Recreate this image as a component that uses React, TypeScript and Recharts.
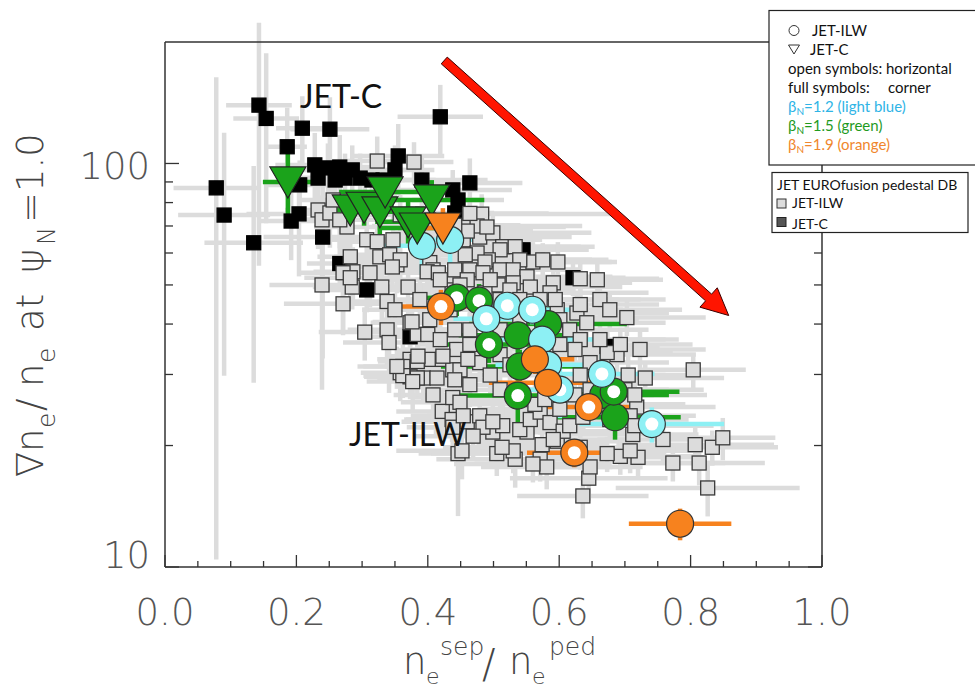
import React from "react";
import { ScatterChart, Scatter, XAxis, YAxis, ErrorBar, ReferenceLine } from "recharts";

// points are [ne_sep/ne_ped, grad ne/ne, x error, relative y error]

// JET EUROfusion pedestal DB, JET-ILW (grey squares)
const ilwDb = [
  [0.323, 101.4, 0.05, 0.15], [0.379, 100.8, 0.06, 0.12], [0.233, 76.7, 0.05, 0.2], [0.239, 72.5, 0.04, 0.15],
  [0.251, 75.4, 0.06, 0.18], [0.277, 69.6, 0.05, 0.2], [0.307, 64.7, 0.07, 0.15], [0.323, 64.0, 0.05, 0.12],
  [0.347, 64.7, 0.06, 0.2], [0.454, 64.7, 0.12, 0.15], [0.479, 65.7, 0.14, 0.12], [0.482, 74.9, 0.2, 0.12],
  [0.475, 70.0, 0.16, 0.1], [0.499, 67.3, 0.15, 0.12], [0.46, 68.0, 0.1, 0.15], [0.49, 69.6, 0.12, 0.1],
  [0.514, 62.2, 0.14, 0.12], [0.533, 62.2, 0.1, 0.1], [0.51, 61.1, 0.12, 0.15], [0.492, 57.7, 0.1, 0.12],
  [0.475, 60.0, 0.08, 0.1], [0.282, 58.7, 0.05, 0.2], [0.286, 53.9, 0.06, 0.15], [0.312, 53.6, 0.05, 0.18],
  [0.327, 58.7, 0.07, 0.12], [0.353, 56.1, 0.06, 0.15], [0.342, 59.4, 0.05, 0.12], [0.358, 57.7, 0.08, 0.15],
  [0.271, 53.6, 0.07, 0.3], [0.346, 55.4, 0.06, 0.12], [0.403, 56.8, 0.08, 0.15], [0.457, 59.4, 0.1, 0.12],
  [0.487, 57.0, 0.12, 0.1], [0.56, 57.0, 0.12, 0.12], [0.575, 57.7, 0.1, 0.1], [0.598, 57.0, 0.09, 0.12],
  [0.54, 57.7, 0.11, 0.1], [0.658, 51.5, 0.1, 0.12], [0.632, 51.8, 0.12, 0.1], [0.464, 54.5, 0.1, 0.12],
  [0.484, 53.6, 0.08, 0.1], [0.51, 54.5, 0.12, 0.12], [0.53, 54.5, 0.1, 0.1], [0.551, 52.4, 0.13, 0.12],
  [0.408, 54.5, 0.06, 0.15], [0.441, 54.5, 0.08, 0.12], [0.399, 53.9, 0.07, 0.1], [0.416, 53.6, 0.06, 0.12],
  [0.507, 50.0, 0.1, 0.1], [0.53, 50.6, 0.12, 0.12], [0.556, 49.4, 0.14, 0.1], [0.591, 50.6, 0.12, 0.12],
  [0.586, 47.8, 0.15, 0.1], [0.437, 48.6, 0.08, 0.12], [0.487, 47.8, 0.1, 0.1], [0.495, 51.5, 0.09, 0.12],
  [0.46, 51.5, 0.08, 0.1], [0.37, 49.4, 0.06, 0.15], [0.33, 49.4, 0.07, 0.2], [0.239, 50.0, 0.08, 0.45],
  [0.285, 49.4, 0.06, 0.12], [0.271, 44.9, 0.09, 0.15], [0.338, 45.5, 0.07, 0.12], [0.35, 43.4, 0.05, 0.1],
  [0.373, 40.3, 0.06, 0.12], [0.304, 38.2, 0.07, 0.15], [0.338, 38.7, 0.06, 0.2], [0.341, 36.0, 0.07, 0.25],
  [0.384, 37.7, 0.05, 0.12], [0.4, 37.7, 0.06, 0.1], [0.703, 41.5, 0.12, 0.1], [0.627, 42.6, 0.14, 0.12],
  [0.642, 40.3, 0.12, 0.1], [0.597, 43.4, 0.1, 0.12], [0.373, 32.7, 0.05, 0.12], [0.384, 32.3, 0.06, 0.15],
  [0.406, 32.7, 0.07, 0.1], [0.422, 32.7, 0.05, 0.12], [0.358, 30.3, 0.06, 0.15], [0.393, 29.4, 0.07, 0.12],
  [0.414, 29.4, 0.06, 0.1], [0.438, 30.8, 0.08, 0.12], [0.408, 26.7, 0.06, 0.15], [0.422, 24.3, 0.07, 0.12],
  [0.438, 26.3, 0.06, 0.1], [0.444, 23.2, 0.08, 0.15], [0.446, 19.1, 0.06, 0.3], [0.373, 29.6, 0.07, 0.12],
  [0.362, 31.4, 0.06, 0.15], [0.384, 29.4, 0.05, 0.1], [0.449, 25.6, 0.09, 0.12], [0.437, 23.2, 0.07, 0.12],
  [0.46, 22.9, 0.1, 0.1], [0.479, 23.7, 0.08, 0.12], [0.499, 21.6, 0.09, 0.1], [0.514, 22.4, 0.1, 0.12],
  [0.551, 21.6, 0.12, 0.1], [0.574, 20.1, 0.1, 0.12], [0.597, 20.5, 0.12, 0.1], [0.505, 19.1, 0.1, 0.12],
  [0.533, 18.5, 0.12, 0.15], [0.571, 18.5, 0.1, 0.12], [0.693, 18.8, 0.12, 0.1], [0.72, 18.7, 0.1, 0.12],
  [0.773, 18.1, 0.08, 0.1], [0.807, 20.1, 0.12, 0.12], [0.804, 30.8, 0.08, 0.1], [0.632, 19.8, 0.12, 0.12],
  [0.712, 21.3, 0.1, 0.1], [0.647, 32.1, 0.12, 0.12], [0.444, 34.6, 0.08, 0.1], [0.449, 30.8, 0.07, 0.12],
  [0.479, 32.1, 0.1, 0.1], [0.461, 32.7, 0.08, 0.12], [0.758, 20.7, 0.1, 0.12], [0.833, 19.8, 0.1, 0.1],
  [0.849, 20.9, 0.08, 0.12], [0.813, 18.1, 0.1, 0.12], [0.826, 15.7, 0.14, 0.15], [0.636, 15.0, 0.1, 0.12],
  [0.645, 16.6, 0.12, 0.12], [0.647, 17.7, 0.08, 0.1], [0.708, 19.4, 0.1, 0.12], [0.673, 19.1, 0.09, 0.1],
  [0.581, 17.7, 0.1, 0.12], [0.56, 18.0, 0.12, 0.1], [0.53, 19.4, 0.1, 0.12], [0.513, 19.8, 0.09, 0.1],
  [0.484, 22.2, 0.1, 0.12], [0.499, 22.9, 0.08, 0.1], [0.469, 21.1, 0.09, 0.12], [0.452, 19.4, 0.1, 0.15],
  [0.438, 22.2, 0.07, 0.12], [0.454, 23.7, 0.08, 0.1], [0.54, 21.9, 0.1, 0.12], [0.556, 23.2, 0.12, 0.1],
  [0.571, 24.2, 0.1, 0.12], [0.586, 22.8, 0.11, 0.1], [0.606, 21.7, 0.12, 0.12], [0.616, 22.4, 0.1, 0.1],
  [0.591, 20.7, 0.12, 0.12], [0.636, 23.5, 0.1, 0.1], [0.718, 24.9, 0.12, 0.12], [0.708, 23.7, 0.1, 0.1],
  [0.715, 22.4, 0.12, 0.12], [0.731, 29.4, 0.12, 0.1], [0.705, 29.9, 0.1, 0.12], [0.688, 33.6, 0.12, 0.1],
  [0.673, 34.0, 0.1, 0.12], [0.376, 40.5, 0.06, 0.12], [0.385, 33.3, 0.05, 0.1], [0.362, 29.8, 0.06, 0.12],
  [0.377, 28.8, 0.07, 0.15], [0.423, 33.3, 0.08, 0.12], [0.353, 31.4, 0.06, 0.12], [0.419, 51.5, 0.08, 0.1],
  [0.449, 50.0, 0.1, 0.12], [0.464, 46.0, 0.09, 0.1], [0.434, 43.4, 0.08, 0.12], [0.403, 41.0, 0.07, 0.1],
  [0.388, 46.0, 0.06, 0.12], [0.51, 46.0, 0.12, 0.1], [0.525, 48.6, 0.1, 0.12], [0.54, 46.0, 0.11, 0.1],
  [0.571, 46.0, 0.12, 0.12], [0.594, 46.0, 0.13, 0.1], [0.601, 41.0, 0.12, 0.12], [0.616, 38.7, 0.12, 0.1],
  [0.632, 36.6, 0.13, 0.12], [0.624, 34.6, 0.12, 0.1], [0.601, 35.6, 0.1, 0.12], [0.54, 41.0, 0.1, 0.1],
  [0.51, 38.7, 0.09, 0.12], [0.464, 38.7, 0.08, 0.1], [0.441, 38.7, 0.07, 0.12], [0.419, 36.6, 0.06, 0.1],
  [0.464, 35.6, 0.08, 0.12], [0.51, 33.6, 0.1, 0.1], [0.525, 31.7, 0.11, 0.12], [0.495, 29.9, 0.09, 0.1],
  [0.464, 28.3, 0.08, 0.12], [0.441, 29.1, 0.07, 0.1], [0.51, 27.5, 0.1, 0.12], [0.54, 26.0, 0.11, 0.1],
  [0.563, 25.3, 0.12, 0.12], [0.578, 26.0, 0.11, 0.1], [0.601, 24.6, 0.12, 0.12], [0.624, 26.7, 0.12, 0.1],
  [0.632, 29.9, 0.13, 0.12], [0.647, 27.5, 0.12, 0.1], [0.662, 25.3, 0.13, 0.12], [0.677, 23.2, 0.12, 0.1],
  [0.7, 27.5, 0.12, 0.12], [0.715, 26.7, 0.11, 0.1], [0.662, 36.6, 0.12, 0.12], [0.693, 35.6, 0.11, 0.1],
  [0.723, 34.6, 0.1, 0.12], [0.632, 44.7, 0.12, 0.1], [0.662, 46.0, 0.1, 0.12], [0.677, 43.4, 0.11, 0.1],
  [0.266, 72.5, 0.06, 0.15], [0.282, 52.1, 0.07, 0.12], [0.256, 81.2, 0.05, 0.15], [0.304, 81.2, 0.06, 0.12],
  [0.358, 74.6, 0.07, 0.12], [0.441, 70.3, 0.1, 0.12], [0.464, 75.2, 0.12, 0.1],
];

// JET EUROfusion pedestal DB, JET-C (black squares)
const jetcDb = [
  [0.143, 139.5, 0.05, 0.6], [0.154, 129.3, 0.05, 0.45], [0.209, 122.3, 0.04, 0.2], [0.251, 121.6, 0.06, 0.2],
  [0.186, 110.0, 0.03, 0.25], [0.078, 87.0, 0.065, 0.88], [0.09, 74.5, 0.07, 0.6], [0.135, 63.6, 0.075, 0.55],
  [0.204, 75.0, 0.08, 0.3], [0.192, 72.0, 0.05, 0.2], [0.24, 65.7, 0.09, 0.5], [0.266, 56.5, 0.05, 0.15],
  [0.307, 48.6, 0.06, 0.12], [0.419, 130.5, 0.065, 0.2], [0.228, 99.2, 0.06, 0.2], [0.248, 97.5, 0.07, 0.15],
  [0.266, 98.0, 0.05, 0.2], [0.285, 96.4, 0.08, 0.15], [0.233, 92.0, 0.06, 0.12], [0.274, 92.0, 0.07, 0.15],
  [0.259, 91.0, 0.05, 0.12], [0.297, 92.0, 0.06, 0.15], [0.355, 104.4, 0.07, 0.2], [0.35, 96.4, 0.06, 0.15],
  [0.332, 91.0, 0.08, 0.12], [0.315, 91.0, 0.05, 0.15], [0.391, 91.0, 0.1, 0.15], [0.438, 86.0, 0.09, 0.12],
  [0.464, 89.5, 0.08, 0.15], [0.446, 81.2, 0.07, 0.12], [0.441, 75.4, 0.06, 0.1], [0.545, 61.1, 0.1, 0.12],
  [0.621, 52.1, 0.08, 0.1], [0.373, 37.2, 0.06, 0.12], [0.673, 35.2, 0.08, 0.1], [0.205, 88.5, 0.05, 0.15],
];

// scan points: open = horizontal, full = corner
const lightBlueOpen = [[0.521, 44.4, 0.06, 0.08], [0.559, 43.4, 0.07, 0.08], [0.489, 41.2, 0.05, 0.1], [0.601, 27.5, 0.07, 0.15], [0.665, 30.1, 0.08, 0.12], [0.741, 22.6, 0.11, 0.1]];
const lightBlueFull = [[0.391, 62.5, 0.06, 0.15], [0.434, 64.7, 0.05, 0.15], [0.574, 36.6, 0.08, 0.1], [0.583, 31.7, 0.08, 0.1]];
const greenOpen = [[0.444, 46.5, 0.05, 0.1], [0.478, 45.7, 0.05, 0.1], [0.493, 35.6, 0.07, 0.1], [0.537, 26.6, 0.1, 0.15], [0.683, 27.2, 0.1, 0.08]];
const greenFull = [[0.537, 37.5, 0.09, 0.1], [0.583, 40.0, 0.12, 0.1], [0.54, 31.4, 0.12, 0.1], [0.667, 26.7, 0.1, 0.1], [0.685, 23.5, 0.1, 0.12]];
const orangeOpen = [[0.42, 44.2, 0.06, 0.1], [0.645, 24.9, 0.07, 0.08], [0.623, 19.2, 0.072, 0.08]];
const orangeFull = [[0.563, 32.7, 0.06, 0.08], [0.583, 28.6, 0.09, 0.08], [0.784, 12.8, 0.078, 0.09]];
const greenTri = [[0.187, 90.0, 0.038, 0.22], [0.282, 76.7, 0.05, 0.12], [0.303, 77.9, 0.045, 0.1], [0.327, 75.9, 0.06, 0.15], [0.335, 85.0, 0.07, 0.1], [0.37, 71.7, 0.05, 0.12], [0.384, 69.2, 0.06, 0.13], [0.406, 81.2, 0.08, 0.12]];
const orangeTri = [[0.423, 69.2, 0.06, 0.12]];

const arrowFrom = { x: 0.425, y: 180 };
const arrowTo = { x: 0.858, y: 42 };

const xTicks = [0, 0.05, 0.1, 0.15, 0.2, 0.25, 0.3, 0.35, 0.4, 0.45, 0.5, 0.55, 0.6, 0.65, 0.7, 0.75, 0.8, 0.85, 0.9, 0.95, 1.0];
const xLabels = [0, 0.2, 0.4, 0.6, 0.8, 1.0];
const yTicks = [10, 20, 30, 40, 50, 60, 70, 80, 90, 100];
const yLabels = [10, 100];

const BLUE = "#8df0f4";
const GREEN = "#1ba31b";
const ORANGE = "#f7821e";
const EDGE = "#333";
const TICK_FONT = "'DejaVu Sans', sans-serif";
const TEXT_FONT = "Lato, 'Open Sans', sans-serif";

const rows = (pts: number[][]) => pts.map(([x, y, ex, ey]) => ({ x, y, ex, ey: y * ey }));

const isLabel = (list: number[], v: number) => list.some((m) => Math.abs(m - v) < 1e-6);

const BottomTick = (p: any) => {
  const v = p.payload.value;
  const major = isLabel(xLabels, v);
  return (
    <g>
      <line x1={p.x} x2={p.x} y1={p.y} y2={p.y - (major ? 12 : 6)} stroke={EDGE} strokeWidth={1.3} />
      {major && (
        <text x={p.x} y={p.y + 58} textAnchor="middle" fontFamily={TICK_FONT} fontWeight={200} fontSize={37} fill="#555">
          {v.toFixed(1)}
        </text>
      )}
    </g>
  );
};

const TopTick = (p: any) => {
  const major = isLabel(xLabels, p.payload.value);
  return <line x1={p.x} x2={p.x} y1={p.y} y2={p.y + (major ? 12 : 6)} stroke={EDGE} strokeWidth={1.3} />;
};

const LeftTick = (p: any) => {
  const v = p.payload.value;
  const major = isLabel(yLabels, v);
  return (
    <g>
      <line x1={p.x} x2={p.x + (major ? 14 : 8)} y1={p.y} y2={p.y} stroke={EDGE} strokeWidth={1.3} />
      {major && (
        <text x={p.x - 15} y={p.y + (v === 10 ? 1 : 16)} textAnchor="end" fontFamily={TICK_FONT} fontWeight={200} fontSize={37} fill="#555">
          {v}
        </text>
      )}
    </g>
  );
};

const RightTick = (p: any) => {
  const major = isLabel(yLabels, p.payload.value);
  return <line x1={p.x} x2={p.x - (major ? 14 : 8)} y1={p.y} y2={p.y} stroke={EDGE} strokeWidth={1.3} />;
};

const nothing = () => <g />;

const square = (fill: string) => (p: any) => (
  <rect x={p.cx - 7} y={p.cy - 7} width={14} height={14} fill={fill} stroke={fill === "#000" ? "#000" : "#3a3a3a"} strokeWidth={1.3} />
);

const circle = (fill: string, open: boolean) => (p: any) => (
  <g>
    <circle cx={p.cx} cy={p.cy} r={13.5} fill={fill} stroke={EDGE} strokeWidth={1.2} />
    {open && <circle cx={p.cx} cy={p.cy} r={6.5} fill="#fff" />}
  </g>
);

const triangle = (fill: string) => (p: any) => (
  <polygon
    points={`${p.cx - 18},${p.cy - 15} ${p.cx + 18},${p.cy - 15} ${p.cx},${p.cy + 16}`}
    fill={fill}
    stroke="#222"
    strokeWidth={1.2}
  />
);

const Arrow = (p: any) => {
  const { x1, y1, x2, y2 } = p;
  const len = Math.hypot(x2 - x1, y2 - y1);
  const ux = (x2 - x1) / len;
  const uy = (y2 - y1) / len;
  const nx = -uy;
  const ny = ux;
  const sw = 4.5;
  const hw = 13;
  const hl = 27;
  const bx = x2 - ux * hl;
  const by = y2 - uy * hl;
  const pts = [
    [x1 + nx * sw, y1 + ny * sw],
    [bx + nx * sw, by + ny * sw],
    [bx + nx * hw, by + ny * hw],
    [x2, y2],
    [bx - nx * hw, by - ny * hw],
    [bx - nx * sw, by - ny * sw],
    [x1 - nx * sw, y1 - ny * sw],
  ];
  return <polygon points={pts.map((q) => q.join(",")).join(" ")} fill="#ff1500" stroke="#3a0000" strokeWidth={1} />;
};

const errs = (color: string) => [
  <ErrorBar key="ex" dataKey="ex" direction="x" width={0} stroke={color} strokeWidth={4.5} />,
  <ErrorBar key="ey" dataKey="ey" direction="y" width={0} stroke={color} strokeWidth={4.5} />,
];

export default function App() {
  const dbRows = [...rows(jetcDb), ...rows(ilwDb)];
  const blueRows = [...rows(lightBlueOpen), ...rows(lightBlueFull)];
  const greenRows = [...rows(greenOpen), ...rows(greenFull), ...rows(greenTri)];
  const orangeRows = [...rows(orangeOpen), ...rows(orangeFull), ...rows(orangeTri)];
  const ax = { xAxisId: "x", yAxisId: "y", isAnimationActive: false };

  return (
    <div style={{ position: "absolute", left: 0, top: 0, width: 975, height: 689, background: "#fff" }}>
      <ScatterChart width={975} height={689} margin={{ top: 12, right: 93, bottom: 92, left: 105 }}>
        <XAxis xAxisId="x" type="number" dataKey="x" domain={[0, 1]} ticks={xTicks} interval={0} allowDataOverflow
          height={30} tickSize={0} tickMargin={0} tickLine={false} tick={<BottomTick />} axisLine={{ stroke: EDGE, strokeWidth: 1.5 }} />
        <XAxis xAxisId="xt" orientation="top" type="number" domain={[0, 1]} ticks={xTicks} interval={0} allowDataOverflow
          height={30} tickSize={0} tickMargin={0} tickLine={false} tick={<TopTick />} axisLine={{ stroke: EDGE, strokeWidth: 1.5 }} />
        <YAxis yAxisId="y" type="number" dataKey="y" scale="log" domain={[10, 200]} ticks={yTicks} interval={0} allowDataOverflow
          width={60} tickSize={0} tickMargin={0} tickLine={false} tick={<LeftTick />} axisLine={{ stroke: EDGE, strokeWidth: 1.5 }} />
        <YAxis yAxisId="yr" orientation="right" type="number" scale="log" domain={[10, 200]} ticks={yTicks} interval={0} allowDataOverflow
          width={60} tickSize={0} tickMargin={0} tickLine={false} tick={<RightTick />} axisLine={{ stroke: EDGE, strokeWidth: 1.5 }} />

        <Scatter {...ax} data={dbRows} shape={nothing}>{errs("#dcdcdc")}</Scatter>
        <Scatter {...ax} data={rows(jetcDb)} shape={square("#000")} />
        <Scatter {...ax} data={rows(ilwDb)} shape={square("#dcdcdc")} />

        <Scatter {...ax} data={greenRows} shape={nothing}>{errs(GREEN)}</Scatter>
        <Scatter {...ax} data={blueRows} shape={nothing}>{errs(BLUE)}</Scatter>
        <Scatter {...ax} data={orangeRows} shape={nothing}>{errs(ORANGE)}</Scatter>

        <Scatter {...ax} data={rows(greenFull)} shape={circle(GREEN, false)} />
        <Scatter {...ax} data={rows(greenOpen)} shape={circle(GREEN, true)} />
        <Scatter {...ax} data={rows(lightBlueFull)} shape={circle(BLUE, false)} />
        <Scatter {...ax} data={rows(lightBlueOpen)} shape={circle(BLUE, true)} />
        <Scatter {...ax} data={rows(orangeFull)} shape={circle(ORANGE, false)} />
        <Scatter {...ax} data={rows(orangeOpen)} shape={circle(ORANGE, true)} />
        <Scatter {...ax} data={rows(greenTri)} shape={triangle(GREEN)} />
        <Scatter {...ax} data={rows(orangeTri)} shape={triangle(ORANGE)} />

        <ReferenceLine xAxisId="x" yAxisId="y" segment={[arrowFrom, arrowTo]} shape={Arrow} />
      </ScatterChart>

      <svg width={975} height={689} style={{ position: "absolute", left: 0, top: 0, pointerEvents: "none" }}>
        {/* y axis title */}
        <g transform="translate(43,477) rotate(-90)" fontFamily={TICK_FONT} fontWeight={200} fill="#444">
          <text x={0} y={0} fontSize={37}>∇</text>
          <text x={25} y={0} fontSize={37}>n</text>
          <text x={49} y={12} fontSize={25}>e</text>
          <text x={66} y={0} fontSize={37}>/</text>
          <text x={90} y={0} fontSize={37}>n</text>
          <text x={114} y={12} fontSize={25}>e</text>
          <text x={146} y={0} fontSize={37}>at</text>
          <text x={204} y={0} fontSize={37}>ψ</text>
          <text x={232} y={12} fontSize={24}>N</text>
          <text x={254} y={0} fontSize={37}>=</text>
          <text x={285} y={0} fontSize={37}>1.0</text>
        </g>
        {/* x axis title */}
        <g fontFamily={TICK_FONT} fontWeight={200} fill="#444">
          <text x={403} y={674} fontSize={37}>n</text>
          <text x={426} y={684} fontSize={22}>e</text>
          <text x={440} y={655} fontSize={25}>sep</text>
          <text x={482} y={678} fontSize={40}>/</text>
          <text x={509} y={674} fontSize={37}>n</text>
          <text x={532} y={684} fontSize={22}>e</text>
          <text x={549} y={655} fontSize={25}>ped</text>
        </g>

        <text x={300} y={108} fontFamily={TEXT_FONT} fontSize={32} fill="#111">JET-C</text>
        <text x={349} y={446} fontFamily={TEXT_FONT} fontSize={32} fill="#111">JET-ILW</text>

        {/* symbol legend */}
        <rect x={769} y={10.5} width={215} height={154.5} fill="#fff" stroke="#222" strokeWidth={1.2} />
        <g fontFamily={TEXT_FONT} fontSize={15} fill="#111">
          <circle cx={794} cy={30.5} r={5} fill="none" stroke="#333" strokeWidth={1} />
          <text x={812} y={36}>JET-ILW</text>
          <polygon points="788.5,45 799.5,45 794,54" fill="none" stroke="#333" strokeWidth={1} />
          <text x={810} y={55}>JET-C</text>
          <text x={788} y={74}>open symbols: horizontal</text>
          <text x={788} y={93}>full symbols:</text>
          <text x={888} y={93}>corner</text>
          <text x={788} y={112} fill="#2fb4e6">β<tspan fontSize={10} dy={3}>N</tspan><tspan dy={-3}>=1.2 (light blue)</tspan></text>
          <text x={788} y={131} fill="#1f9a1f">β<tspan fontSize={10} dy={3}>N</tspan><tspan dy={-3}>=1.5 (green)</tspan></text>
          <text x={788} y={150} fill="#f0862c">β<tspan fontSize={10} dy={3}>N</tspan><tspan dy={-3}>=1.9 (orange)</tspan></text>
        </g>

        {/* database legend */}
        <rect x={772} y={172.5} width={196} height={60} fill="#fff" stroke="#222" strokeWidth={1.2} />
        <g fontFamily={TEXT_FONT} fontSize={14} fill="#111">
          <text x={777} y={190}>JET EUROfusion pedestal DB</text>
          <rect x={777} y={199} width={9} height={9} fill="#dcdcdc" stroke="#333" strokeWidth={1} />
          <text x={792} y={208}>JET-ILW</text>
          <rect x={777} y={217.5} width={9} height={9} fill="#555" stroke="#222" strokeWidth={1} />
          <text x={792} y={229}>JET-C</text>
        </g>
      </svg>
    </div>
  );
}
